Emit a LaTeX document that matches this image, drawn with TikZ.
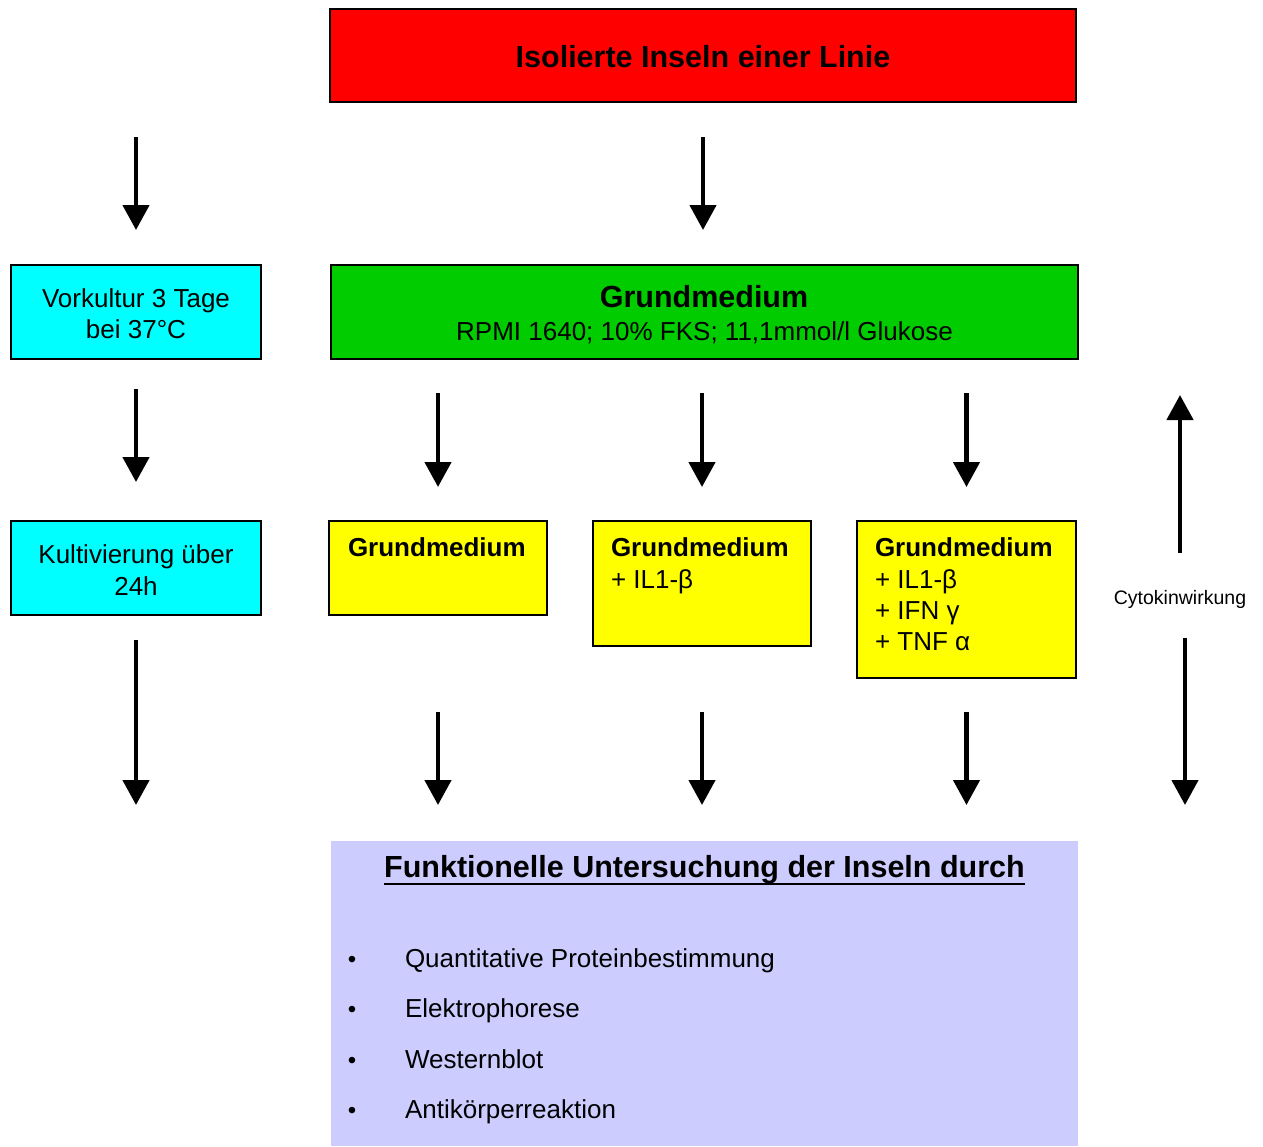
\documentclass[tikz,border=0pt]{standalone}
\usepackage{fontspec}
\setmainfont{Liberation Sans}
\usetikzlibrary{arrows.meta}
\definecolor{cRed}{HTML}{FF0000}
\definecolor{cGreen}{HTML}{00CC00}
\definecolor{cCyan}{HTML}{00FFFF}
\definecolor{cYellow}{HTML}{FFFF00}
\definecolor{cBlue}{HTML}{CCCCFF}
\begin{document}
\begin{tikzpicture}[x=1pt,y=-1pt,
  box/.style={draw=black,line width=2pt,inner sep=0pt,outer sep=0pt},
  plainbox/.style={inner sep=0pt,outer sep=0pt},
  txt/.style={inner sep=0pt,outer sep=0pt,font=\fontsize{26}{31}\selectfont},
  btxt/.style={inner sep=0pt,outer sep=0pt,font=\fontsize{26}{31}\selectfont\bfseries},
  bigtxt/.style={inner sep=0pt,outer sep=0pt,font=\fontsize{30.5}{36}\selectfont\bfseries},
  arr/.style={line width=4.5pt,-{Triangle[width=26pt,length=25pt]}}
]
\useasboundingbox (0,0) rectangle (1263,1146);

% boxes
\node[box,fill=cRed,minimum width=746pt,minimum height=93pt] (red) at (703,55.5) {};
\node[box,fill=cCyan,minimum width=250pt,minimum height=94pt] (vk) at (136,312) {};
\node[box,fill=cGreen,minimum width=747pt,minimum height=94pt] (green) at (704.5,312) {};
\node[box,fill=cCyan,minimum width=250pt,minimum height=94pt] (kv) at (136,568) {};
\node[box,fill=cYellow,minimum width=218pt,minimum height=94pt] (y1) at (438,568) {};
\node[box,fill=cYellow,minimum width=218pt,minimum height=125pt] (y2) at (702,583.5) {};
\node[box,fill=cYellow,minimum width=219pt,minimum height=157pt] (y3) at (966.5,599.5) {};
\node[plainbox,fill=cBlue,minimum width=747pt,minimum height=305pt] (blue) at (704.5,993.5) {};

% texts
\node[bigtxt,anchor=base] (tTitle) at (703,67.5) {Isolierte Inseln einer Linie};
\node[txt,anchor=base] (tVk1) at (136,307) {Vorkultur 3 Tage};
\node[txt,anchor=base] (tVk2) at (136,338.5) {bei 37°C};
\node[bigtxt,anchor=base] (tGr) at (704,307.5) {Grundmedium};
\node[txt,anchor=base] (tRpmi) at (704.5,340) {RPMI 1640; 10\% FKS; 11,1mmol/l Glukose};
\node[txt,anchor=base] (tKv1) at (136,563) {Kultivierung über};
\node[txt,anchor=base] (tKv2) at (136,595) {24h};

\node[btxt,anchor=base west] (tY1) at (348,556.7) {Grundmedium};
\node[btxt,anchor=base west] (tY2a) at (611,556.7) {Grundmedium};
\node[txt,anchor=base west] (tY2b) at (611,588) {+ IL1-β};
\node[btxt,anchor=base west] (tY3a) at (875,556.7) {Grundmedium};
\node[txt,anchor=base west] (tY3b) at (875,588) {+ IL1-β};
\node[txt,anchor=base west] (tY3c) at (875,619.5) {+ IFN γ};
\node[txt,anchor=base west] (tY3d) at (875,650.7) {+ TNF α};

\node[inner sep=0pt,outer sep=0pt,font=\fontsize{19.5}{23}\selectfont,anchor=base] (cyto) at (1180,604.3) {Cytokinwirkung};

\node[bigtxt,anchor=base] (tHead) at (704.5,877) {Funktionelle Untersuchung der Inseln durch};
\draw[line width=2.5pt] ([yshift=-7pt]tHead.base west) -- ([yshift=-7pt]tHead.base east);

\foreach \i/\t [count=\n] in {0/Quantitative Proteinbestimmung,1/Elektrophorese,2/Westernblot,3/Antikörperreaktion}{
  \node[inner sep=0pt,outer sep=0pt,font=\fontsize{24}{28}\selectfont,anchor=base] (b\n) at (352,967+50.5*\i) {•};
  \node[txt,anchor=base west] (l\n) at (405,967+50.5*\i) {\t};
}

% arrows row 1
\draw[arr,shorten <=35pt,shorten >=35pt] (vk.north |- red.south) -- (vk.north);
\draw[arr,shorten <=35pt,shorten >=35pt] (red.south) -- (red.south |- green.north);

% arrows row 2
\draw[arr,shorten <=30pt,shorten >=39pt] (vk.south) -- (kv.north);
\draw[arr,shorten <=34pt,shorten >=34pt] (y1.north |- green.south) -- (y1.north);
\draw[arr,shorten <=34pt,shorten >=34pt] (y2.north |- green.south) -- (y2.north);
\draw[arr,shorten <=34pt,shorten >=34pt] (y3.north |- green.south) -- (y3.north);

% arrows row 3
\draw[arr,shorten <=25pt,shorten >=36pt] (kv.south) -- (kv.south |- blue.north);
\draw[arr,shorten <=97pt,shorten >=36pt] (y1.south) -- (y1.south |- blue.north);
\draw[arr,shorten <=66pt,shorten >=36pt] (y2.south) -- (y2.south |- blue.north);
\draw[arr,shorten <=34pt,shorten >=36pt] (y3.south) -- (y3.south |- blue.north);

% cytokine arrows
\coordinate (upEnd) at (1180,395);
\coordinate (downX) at (1185,700);
\draw[arr,shorten <=51pt] (cyto.base -| upEnd) -- (upEnd);
\draw[arr,shorten <=34pt,shorten >=36pt] (cyto.base -| downX) -- (downX |- blue.north);
\end{tikzpicture}
\end{document}
